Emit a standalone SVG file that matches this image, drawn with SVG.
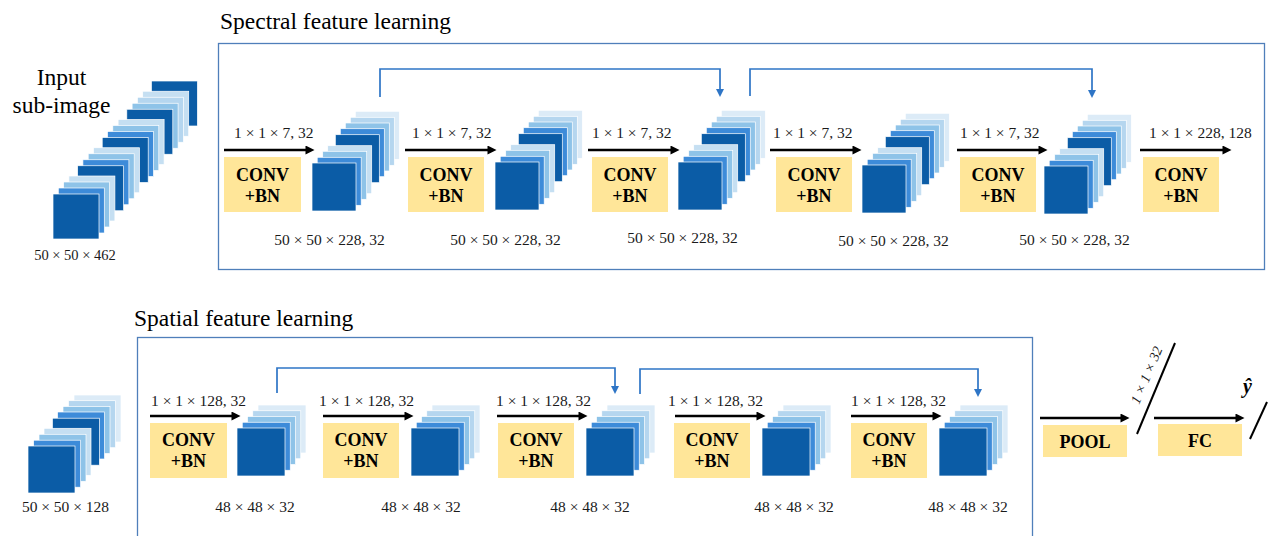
<svg xmlns="http://www.w3.org/2000/svg" xmlns:xlink="http://www.w3.org/1999/xlink" width="1269" height="536" viewBox="0 0 1269 536">
<style>
text{font-family:"Liberation Serif","Times New Roman",serif;fill:#000}
.title{font-size:23.5px}
.dim{font-size:15.5px;fill:#1a1a1a}
.op{font-size:18px;font-weight:bold;text-anchor:middle}
.mid{text-anchor:middle}
.conv{fill:#FFE699}
.frame{fill:none;stroke:#4F7FBA;stroke-width:1.3}
.flow{stroke:#000;stroke-width:2.6;fill:none}
.skip{stroke:#2E75C6;stroke-width:1.7;fill:none}
.slash{stroke:#000;stroke-width:2}
.l0{fill:#0B5CA6}.l1{fill:#3D8BD9}.l2{fill:#8EC3E8}.l3{fill:#C5DFF2}.l4{fill:#B5D6EF}.l5{fill:#DCEBF7}
.lay rect{stroke:#fff;stroke-width:0.7}
</style>
<defs>
<marker id="ah" viewBox="0 0 10 10" refX="5" refY="5" markerWidth="11" markerHeight="9" markerUnits="userSpaceOnUse" orient="auto">
<path d="M0,0 L10,5 L0,10 z" fill="#000"/>
</marker>
<marker id="ahb" viewBox="0 0 10 10" refX="5" refY="5" markerWidth="8" markerHeight="8" markerUnits="userSpaceOnUse" orient="auto">
<path d="M0,0 L10,5 L0,10 z" fill="#2E75C6"/>
</marker>
<g id="stack9" class="lay">
<rect class="l5" x="43.3" y="-51.7" width="44" height="48"/>
<rect class="l4" x="38.3" y="-45.7" width="44" height="48"/>
<rect class="l2" x="33.3" y="-40" width="44" height="48"/>
<rect class="l1" x="28.3" y="-34.3" width="44" height="48"/>
<rect class="l0" x="23.3" y="-28.3" width="44" height="48"/>
<rect class="l3" x="15.7" y="-17.3" width="44" height="48"/>
<rect class="l2" x="10.7" y="-11.7" width="44" height="48"/>
<rect class="l1" x="5.2" y="-5.7" width="44" height="48"/>
<rect class="l0" x="0" y="0" width="44" height="48"/>
</g>
<g id="stack5" class="lay">
<rect class="l5" x="21" y="-23" width="48" height="48"/>
<rect class="l4" x="15.75" y="-17.25" width="48" height="48"/>
<rect class="l2" x="10.5" y="-11.5" width="48" height="48"/>
<rect class="l1" x="5.25" y="-5.75" width="48" height="48"/>
<rect class="l0" x="0" y="0" width="48" height="48"/>
</g>
</defs>

<!-- frames and titles -->
<rect class="frame" x="218.5" y="43.5" width="1046" height="226"/>
<rect class="frame" x="137.5" y="337.5" width="895" height="210"/>
<text class="title" x="220" y="29">Spectral feature learning</text>
<text class="title" x="134" y="326">Spatial feature learning</text>

<!-- input sub-image -->
<g id="input-spectral">
<text class="mid" x="61.5" y="85" style="font-size:23.5px">Input</text>
<text class="mid" x="61.5" y="113" style="font-size:23.5px">sub-image</text>
<g class="lay" transform="translate(53,194)">
<rect class="l0" x="98.4" y="-113" width="46" height="45"/>
<rect class="l3" x="89.7" y="-102.75" width="46" height="45"/>
<rect class="l4" x="84.4" y="-96.75" width="46" height="45"/>
<rect class="l2" x="79.1" y="-90.75" width="46" height="45"/>
<rect class="l0" x="73.8" y="-84.75" width="46" height="45"/>
<rect class="l3" x="65.1" y="-74.5" width="46" height="45"/>
<rect class="l2" x="59.8" y="-68.5" width="46" height="45"/>
<rect class="l1" x="54.5" y="-62.5" width="46" height="45"/>
<rect class="l0" x="49.2" y="-56.5" width="46" height="45"/>
<rect class="l3" x="40.5" y="-46.25" width="46" height="45"/>
<rect class="l2" x="35.2" y="-40.25" width="46" height="45"/>
<rect class="l1" x="29.9" y="-34.25" width="46" height="45"/>
<rect class="l0" x="24.6" y="-28.25" width="46" height="45"/>
<rect class="l3" x="15.9" y="-18" width="46" height="45"/>
<rect class="l2" x="10.6" y="-12" width="46" height="45"/>
<rect class="l1" x="5.3" y="-6" width="46" height="45"/>
<rect class="l0" x="0" y="0" width="46" height="45"/>
</g>
<text class="dim mid" x="75" y="260" style="font-size:14.5px">50 × 50 × 462</text>
</g>

<!-- spectral row -->
<g id="spec-conv1"><rect class="conv" x="224" y="157" width="77" height="55"/><text class="op" x="262.5" y="181">CONV</text><text class="op" x="262.5" y="202">+BN</text></g>
<g id="spec-conv2"><rect class="conv" x="408" y="157" width="76" height="55"/><text class="op" x="446" y="181">CONV</text><text class="op" x="446" y="202">+BN</text></g>
<g id="spec-conv3"><rect class="conv" x="592" y="157" width="76" height="55"/><text class="op" x="630" y="181">CONV</text><text class="op" x="630" y="202">+BN</text></g>
<g id="spec-conv4"><rect class="conv" x="776" y="157" width="76" height="55"/><text class="op" x="814" y="181">CONV</text><text class="op" x="814" y="202">+BN</text></g>
<g id="spec-conv5"><rect class="conv" x="960" y="157" width="76" height="55"/><text class="op" x="998" y="181">CONV</text><text class="op" x="998" y="202">+BN</text></g>
<g id="spec-conv6"><rect class="conv" x="1143" y="157" width="76" height="55"/><text class="op" x="1181" y="181">CONV</text><text class="op" x="1181" y="202">+BN</text></g>

<g id="spec-fm1"><use xlink:href="#stack9" transform="translate(312,163)"/><text class="dim mid" x="329.5" y="245">50 × 50 × 228, 32</text></g>
<g id="spec-fm2"><use xlink:href="#stack9" transform="translate(495,162)"/><text class="dim mid" x="505.5" y="245">50 × 50 × 228, 32</text></g>
<g id="spec-fm3"><use xlink:href="#stack9" transform="translate(678,162)"/><text class="dim mid" x="682.5" y="243">50 × 50 × 228, 32</text></g>
<g id="spec-fm4"><use xlink:href="#stack9" transform="translate(862,165)"/><text class="dim mid" x="893.5" y="246">50 × 50 × 228, 32</text></g>
<g id="spec-fm5"><use xlink:href="#stack9" transform="translate(1044,166)"/><text class="dim mid" x="1074.5" y="245">50 × 50 × 228, 32</text></g>

<!-- spatial row -->
<g id="input-spatial">
<g class="lay" transform="translate(28,446)">
<rect class="l5" x="46" y="-51" width="47" height="47"/>
<rect class="l4" x="40.5" y="-45.3" width="47" height="47"/>
<rect class="l2" x="35" y="-39.5" width="47" height="47"/>
<rect class="l1" x="29.5" y="-34" width="47" height="47"/>
<rect class="l0" x="24.4" y="-27.8" width="47" height="47"/>
<rect class="l3" x="16" y="-17.7" width="47" height="47"/>
<rect class="l2" x="11" y="-11.7" width="47" height="47"/>
<rect class="l1" x="5.6" y="-5.8" width="47" height="47"/>
<rect class="l0" x="0" y="0" width="47" height="47"/>
</g>
<text class="dim mid" x="65.5" y="512">50 × 50 × 128</text>
</g>

<g id="spat-conv1"><rect class="conv" x="150" y="423" width="77" height="55"/><text class="op" x="188.5" y="446">CONV</text><text class="op" x="188.5" y="467">+BN</text></g>
<g id="spat-conv2"><rect class="conv" x="323" y="423" width="76" height="55"/><text class="op" x="361" y="446">CONV</text><text class="op" x="361" y="467">+BN</text></g>
<g id="spat-conv3"><rect class="conv" x="498" y="423" width="76" height="55"/><text class="op" x="536" y="446">CONV</text><text class="op" x="536" y="467">+BN</text></g>
<g id="spat-conv4"><rect class="conv" x="674" y="423" width="76" height="55"/><text class="op" x="712" y="446">CONV</text><text class="op" x="712" y="467">+BN</text></g>
<g id="spat-conv5"><rect class="conv" x="851" y="423" width="76" height="55"/><text class="op" x="889" y="446">CONV</text><text class="op" x="889" y="467">+BN</text></g>

<g id="spat-fm1"><use xlink:href="#stack5" transform="translate(237,428)"/><text class="dim mid" x="255" y="512">48 × 48 × 32</text></g>
<g id="spat-fm2"><use xlink:href="#stack5" transform="translate(411,428)"/><text class="dim mid" x="421" y="512">48 × 48 × 32</text></g>
<g id="spat-fm3"><use xlink:href="#stack5" transform="translate(586,428)"/><text class="dim mid" x="590" y="512">48 × 48 × 32</text></g>
<g id="spat-fm4"><use xlink:href="#stack5" transform="translate(762,428)"/><text class="dim mid" x="794" y="512">48 × 48 × 32</text></g>
<g id="spat-fm5"><use xlink:href="#stack5" transform="translate(939,428)"/><text class="dim mid" x="968" y="512">48 × 48 × 32</text></g>

<g id="pool"><rect class="conv" x="1043" y="425" width="84" height="32"/><text class="op" x="1085" y="448">POOL</text></g>
<g id="fc"><rect class="conv" x="1158" y="424" width="84" height="32"/><text class="op" x="1200" y="447">FC</text></g>
<g id="feat-vec"><line class="slash" x1="1137" y1="434" x2="1175" y2="343"/><text class="dim" style="font-size:14px;font-style:italic" transform="translate(1139,405) rotate(-67)">1 × 1 × 32</text></g>
<g id="output"><line class="slash" x1="1250" y1="439" x2="1267" y2="402"/><text x="1243" y="393" style="font-size:20px;font-weight:bold;font-style:italic">ŷ</text></g>

<!-- connectors -->
<g id="connectors">
<line class="flow" x1="224" y1="150" x2="310" y2="150" marker-end="url(#ah)"/>
<line class="flow" x1="405" y1="150" x2="492" y2="150" marker-end="url(#ah)"/>
<line class="flow" x1="588" y1="150" x2="675" y2="150" marker-end="url(#ah)"/>
<line class="flow" x1="770" y1="150" x2="857" y2="150" marker-end="url(#ah)"/>
<line class="flow" x1="957" y1="150" x2="1043" y2="150" marker-end="url(#ah)"/>
<line class="flow" x1="1140" y1="150" x2="1227" y2="150" marker-end="url(#ah)"/>
<path class="skip" d="M380,97 V69 H720 V93" marker-end="url(#ahb)"/>
<path class="skip" d="M750,96 V69 H1092 V94" marker-end="url(#ahb)"/>

<line class="flow" x1="150" y1="416" x2="236" y2="416" marker-end="url(#ah)"/>
<line class="flow" x1="323" y1="416" x2="409" y2="416" marker-end="url(#ah)"/>
<line class="flow" x1="497" y1="416" x2="583" y2="416" marker-end="url(#ah)"/>
<line class="flow" x1="675" y1="416" x2="761" y2="416" marker-end="url(#ah)"/>
<line class="flow" x1="851" y1="416" x2="937" y2="416" marker-end="url(#ah)"/>
<line class="flow" x1="1040" y1="418" x2="1125" y2="418" marker-end="url(#ah)"/>
<line class="flow" x1="1154" y1="418" x2="1240" y2="418" marker-end="url(#ah)"/>
<path class="skip" d="M277,393 V368 H615 V390" marker-end="url(#ahb)"/>
<path class="skip" d="M640,394 V369 H978 V393" marker-end="url(#ahb)"/>
</g>

<!-- operation parameter labels -->
<g id="params">
<text class="dim" x="234" y="138">1 × 1 × 7, 32</text>
<text class="dim" x="412" y="138">1 × 1 × 7, 32</text>
<text class="dim" x="592" y="138">1 × 1 × 7, 32</text>
<text class="dim" x="773" y="138">1 × 1 × 7, 32</text>
<text class="dim" x="960" y="138">1 × 1 × 7, 32</text>
<text class="dim" x="1149" y="138">1 × 1 × 228, 128</text>
<text class="dim" x="151" y="406">1 × 1 × 128, 32</text>
<text class="dim" x="319" y="406">1 × 1 × 128, 32</text>
<text class="dim" x="496" y="406">1 × 1 × 128, 32</text>
<text class="dim" x="668" y="406">1 × 1 × 128, 32</text>
<text class="dim" x="851" y="406">1 × 1 × 128, 32</text>
</g>
</svg>
